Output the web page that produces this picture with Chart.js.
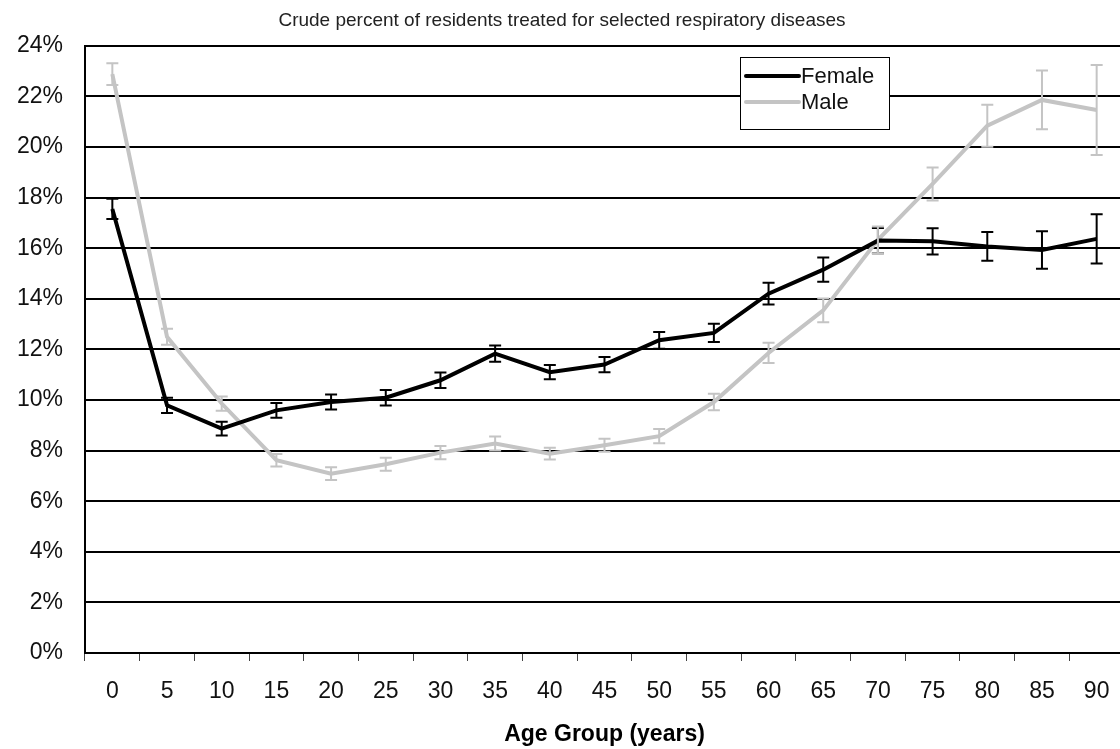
<!DOCTYPE html>
<html>
<head>
<meta charset="utf-8">
<script src="https://cdn.jsdelivr.net/npm/chart.js@4/dist/chart.umd.min.js"></script>
<style>
  html, body { margin: 0; padding: 0; background: #fff; overflow: hidden; }
  #wrap { width: 1130px; height: 749px; position: relative; }
</style>
</head>
<body>
<div id="wrap"><canvas id="respChart"></canvas></div>
<script>
const ageGroups = ["0", "5", "10", "15", "20", "25", "30", "35", "40", "45", "50", "55", "60", "65", "70", "75", "80", "85", "90"];

const femaleValues = [17.55, 9.79, 8.87, 9.59, 9.92, 10.09, 10.78, 11.83, 11.1, 11.4, 12.36, 12.65, 14.2, 15.15, 16.3, 16.27, 16.07, 15.93, 16.37];
const femaleErr = [0.4, 0.3, 0.27, 0.29, 0.3, 0.31, 0.31, 0.32, 0.28, 0.3, 0.33, 0.36, 0.43, 0.48, 0.5, 0.52, 0.57, 0.74, 0.97];

const maleValues = [22.88, 12.5, 9.86, 7.62, 7.09, 7.46, 7.92, 8.28, 7.88, 8.21, 8.57, 9.92, 11.86, 13.54, 16.33, 18.54, 20.84, 21.86, 21.46];
const maleErr = [0.43, 0.32, 0.28, 0.25, 0.25, 0.26, 0.26, 0.28, 0.23, 0.26, 0.28, 0.33, 0.4, 0.47, 0.53, 0.65, 0.83, 1.16, 1.78];

const yTicks = [0, 2, 4, 6, 8, 10, 12, 14, 16, 18, 20, 22, 24];

const fontFamily = "'Liberation Sans', Arial, Helvetica, sans-serif";

// error bars drawn with the chart's own scales
const errorBars = {
  id: "errorBars",
  afterDatasetsDraw(chart) {
    const ctx = chart.ctx;
    const xs = chart.scales.x;
    const ys = chart.scales.y;
    chart.data.datasets.forEach((ds) => {
      ctx.save();
      ctx.strokeStyle = ds.errColor;
      ctx.lineWidth = 2;
      ds.data.forEach((v, i) => {
        const e = ds.errors[i];
        const x = xs.getPixelForValue(i);
        const yTop = ys.getPixelForValue(v + e);
        const yBot = ys.getPixelForValue(v - e);
        ctx.beginPath();
        ctx.moveTo(x, yTop);
        ctx.lineTo(x, yBot);
        ctx.moveTo(x - 6, yTop);
        ctx.lineTo(x + 6, yTop);
        ctx.moveTo(x - 6, yBot);
        ctx.lineTo(x + 6, yBot);
        ctx.stroke();
      });
      ctx.restore();
    });
  },
};

// boxed legend inside the plot area
const boxLegend = {
  id: "boxLegend",
  afterDraw(chart) {
    const ctx = chart.ctx;
    const left = 740, top = 57, w = 149, h = 72;
    ctx.save();
    ctx.fillStyle = "#fff";
    ctx.fillRect(left, top, w, h);
    ctx.strokeStyle = "#000";
    ctx.lineWidth = 1;
    ctx.strokeRect(left + 0.5, top + 0.5, w, h);
    ctx.font = "22px " + fontFamily;
    ctx.textBaseline = "middle";
    chart.data.datasets.forEach((ds, i) => {
      const y = top + 19 + i * 26;
      ctx.strokeStyle = ds.borderColor;
      ctx.lineWidth = 4;
      ctx.lineCap = "round";
      ctx.beginPath();
      ctx.moveTo(left + 6, y);
      ctx.lineTo(left + 59, y);
      ctx.stroke();
      ctx.fillStyle = "#111";
      ctx.fillText(ds.label, left + 61, y + 1);
    });
    ctx.restore();
  },
};

const ctx = document.getElementById("respChart").getContext("2d");
new Chart(ctx, {
  type: "line",
  data: {
    labels: ageGroups,
    datasets: [
      {
        label: "Female",
        data: femaleValues,
        errors: femaleErr,
        errColor: "#000",
        borderColor: "#000",
        borderWidth: 4,
        pointRadius: 0,
        tension: 0,
        fill: false,
      },
      {
        label: "Male",
        data: maleValues,
        errors: maleErr,
        errColor: "#c4c4c4",
        borderColor: "#c4c4c4",
        borderWidth: 4,
        pointRadius: 0,
        tension: 0,
        fill: false,
      },
    ],
  },
  options: {
    responsive: true,
    maintainAspectRatio: false,
    animation: false,
    layout: { padding: { top: 0, right: 6, bottom: 0, left: 0 } },
    plugins: {
      legend: { display: false },
      tooltip: { enabled: false },
      subtitle: {
        display: true,
        text: "Crude percent of residents treated for selected respiratory diseases",
        color: "#222",
        font: { family: fontFamily, size: 19 },
        padding: { top: 9, bottom: 14 },
      },
    },
    scales: {
      x: {
        offset: true,
        afterFit: (scale) => {
          scale.height = 96;
        },
        grid: {
          display: true,
          offset: true,
          drawOnChartArea: false,
          drawTicks: true,
          tickLength: 8,
          color: "#444",
          lineWidth: 1,
        },
        border: { display: true, color: "#000", width: 2 },
        ticks: {
          color: "#111",
          font: { family: fontFamily, size: 23 },
          padding: 17,
          maxRotation: 0,
          autoSkip: false,
        },
        title: {
          display: true,
          text: "Age Group (years)",
          color: "#000",
          font: { family: fontFamily, size: 23, weight: "bold" },
          padding: { top: 0, bottom: 1 },
        },
      },
      y: {
        min: 0,
        max: 24,
        afterBuildTicks: (scale) => {
          scale.ticks = yTicks.map((v) => ({ value: v }));
        },
        afterFit: (scale) => {
          scale.width = 85;
        },
        grid: {
          color: "#000",
          lineWidth: 2,
          drawTicks: false,
        },
        border: { display: true, color: "#000", width: 2 },
        ticks: {
          color: "#111",
          font: { family: fontFamily, size: 23 },
          padding: 22,
          callback: (v) => v + "%",
        },
      },
    },
  },
  plugins: [errorBars, boxLegend],
});
</script>
</body>
</html>
